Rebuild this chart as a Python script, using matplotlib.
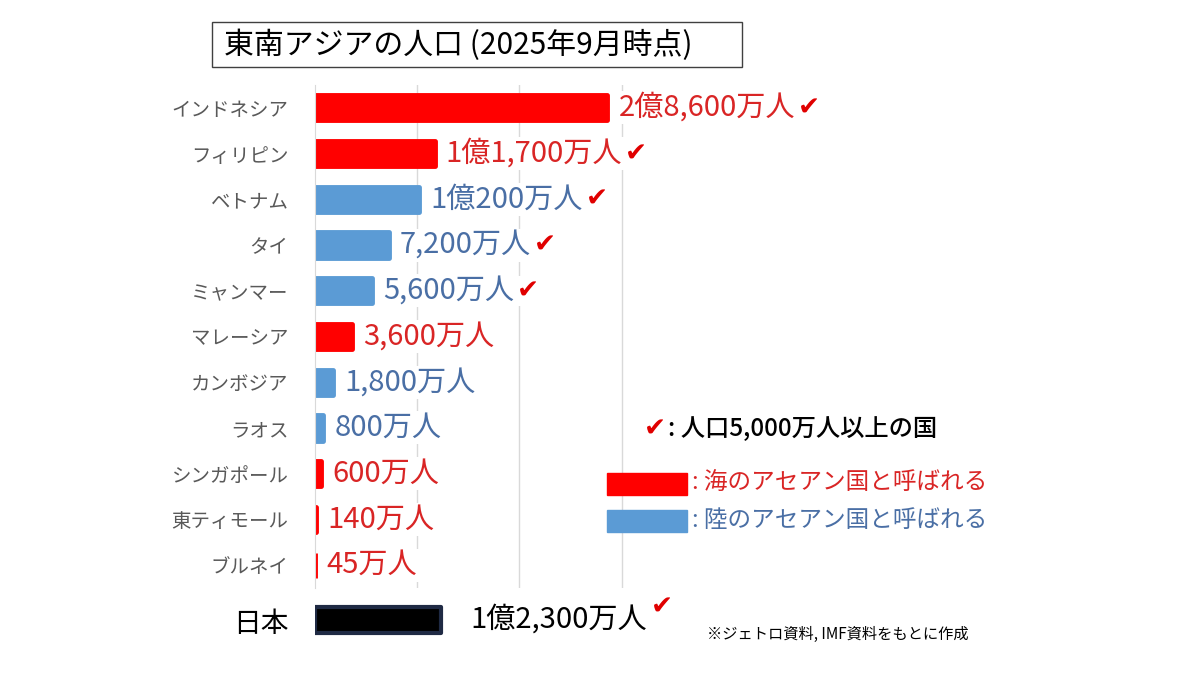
import matplotlib
matplotlib.use('Agg')
import matplotlib.pyplot as plt
from matplotlib.patches import Rectangle

plt.rcParams['font.family'] = ['Noto Sans CJK JP', 'DejaVu Sans']

# データ (単位: 万人)
countries = ['インドネシア', 'フィリピン', 'ベトナム', 'タイ', 'ミャンマー', 'マレーシア',
             'カンボジア', 'ラオス', 'シンガポール', '東ティモール', 'ブルネイ']
population = [28600, 11700, 10200, 7200, 5600, 3600, 1800, 800, 600, 140, 45]
region = ['sea', 'sea', 'land', 'land', 'land', 'sea', 'land', 'land', 'sea', 'sea', 'sea']
japan_label = '日本'
japan_population = 12300
threshold = 5000  # 5,000万人以上にチェック

# 色
bar_colors = {'sea': '#ff0000', 'land': '#5b9bd5'}
text_colors = {'sea': '#d92525', 'land': '#4a6fa5'}
check_color = '#e00000'


def fmt(v):
    oku, man = divmod(v, 10000)
    if oku:
        return f'{oku}億{man:,}万人'
    return f'{man:,}万人'


def fx(x):
    return x / 1200


def fy(y):
    return 1 - y / 675


fig = plt.figure(figsize=(12, 6.75), dpi=100)
fig.patch.set_facecolor('white')

# タイトル
fig.add_artist(Rectangle((fx(212), fy(67)), 530 / 1200, 45 / 675, transform=fig.transFigure,
                         fill=False, ec='#404040', lw=1))
fig.text(fx(224), fy(45), '東南アジアの人口 (2025年9月時点)', fontsize=21.5, va='center', ha='left')

# 東南アジア各国
xmax = 67000
ax = fig.add_axes([fx(315), fy(588), 685 / 1200, 503 / 675])
n = len(countries)
cols = [bar_colors[r] for r in region]
ax.barh(range(n), population, height=0.55, color=cols, edgecolor=cols, linewidth=3.5,
        joinstyle='round', zorder=2)
ax.set_xlim(0, xmax)
ax.set_ylim(n - 0.5, -0.5)
ax.set_yticks(range(n))
ax.set_yticklabels(countries, fontsize=14, color='#595959')
ax.set_xticks([10000, 20000, 30000])
ax.tick_params(axis='x', length=0, labelbottom=False)
ax.tick_params(axis='y', length=0, pad=19)
ax.grid(axis='x', color='#d9d9d9', lw=1)
ax.set_axisbelow(True)
for s in ['top', 'right', 'bottom']:
    ax.spines[s].set_visible(False)
ax.spines['left'].set_color('#d9d9d9')

for i, v in enumerate(population):
    t = ax.annotate(fmt(v), xy=(v, i), xytext=(8, 0), textcoords='offset points',
                    va='center', ha='left', fontsize=21, color=text_colors[region[i]],
                    bbox=dict(fc='white', ec='none', pad=1), zorder=3)
    if v >= threshold:
        ax.annotate('✔', xy=(1, 0.5), xycoords=t, xytext=(2, 0), textcoords='offset points',
                    va='center', ha='left', fontsize=19, color=check_color,
                    bbox=dict(fc='white', ec='none', pad=1), zorder=3)

# 日本
ax2 = fig.add_axes([fx(315), fy(643), 685 / 1200, 46 / 675])
ax2.barh([0], [japan_population], height=0.58, color='black', edgecolor='#1f2a44',
         linewidth=3, joinstyle='round')
ax2.set_xlim(0, xmax)
ax2.set_ylim(-0.5, 0.5)
ax2.set_yticks([0])
ax2.set_yticklabels([japan_label], fontsize=20, color='black')
ax2.set_xticks([])
ax2.tick_params(axis='y', length=0, pad=19)
for s in ax2.spines.values():
    s.set_visible(False)
tj = ax2.annotate(fmt(japan_population), xy=(japan_population, 0), xytext=(21, 0),
                  textcoords='offset points', va='center', ha='left', fontsize=21, color='black')
if japan_population >= threshold:
    ax2.annotate('✔', xy=(1, 0.5), xycoords=tj, xytext=(3, 9), textcoords='offset points',
                 va='center', ha='left', fontsize=19, color=check_color)

# 凡例
fig.text(fx(644), fy(429), '✔', fontsize=19, color=check_color, va='center', ha='left')
fig.text(fx(668), fy(429), ': 人口5,000万人以上の国', fontsize=17.5, color='black',
         va='center', ha='left', weight='medium')
fig.add_artist(Rectangle((fx(607), fy(495)), 80 / 1200, 22 / 675, transform=fig.transFigure,
                         color=bar_colors['sea']))
fig.text(fx(692), fy(483), ': 海のアセアン国と呼ばれる', fontsize=17, color=text_colors['sea'],
         va='center', ha='left')
fig.add_artist(Rectangle((fx(607), fy(532)), 80 / 1200, 22 / 675, transform=fig.transFigure,
                         color=bar_colors['land']))
fig.text(fx(692), fy(520), ': 陸のアセアン国と呼ばれる', fontsize=17, color=text_colors['land'],
         va='center', ha='left')

# 出典
fig.text(fx(707), fy(634), '※ジェトロ資料, IMF資料をもとに作成', fontsize=11, color='black',
         va='center', ha='left')

fig.savefig('out.png', dpi=100)
